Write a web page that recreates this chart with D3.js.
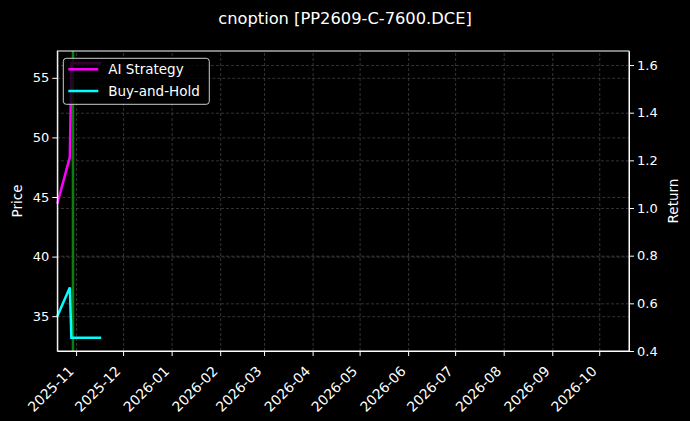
<!DOCTYPE html>
<html>
<head>
<meta charset="utf-8">
<script src="https://cdn.jsdelivr.net/npm/d3@7"></script>
<style>
  html, body { margin: 0; padding: 0; background: #000; }
  svg { display: block; font-family: "DejaVu Sans", sans-serif; }
  .axis text { fill: #fff; font-size: 13px; font-family: "DejaVu Sans", sans-serif; }
  .axis.x text { font-size: 13.8px; }
  .axis path, .axis line { stroke: #fff; }
  .grid line { stroke: #555; stroke-dasharray: 3,2; stroke-width: 0.6; }
  .grid path { display: none; }
</style>
</head>
<body>
<div id="container"></div>
<script>
// data
const dates = ["2025-10-20", "2025-10-28", "2025-10-29", "2025-11-17"]
const aiReturn = [1.018, 1.214, 1.608, 1.608]
const bhReturn = [0.546, 0.667, 0.456, 0.456]
const signalDates = ["2025-10-30"]
const xDomain = ["2025-10-20", "2026-10-20"]
const priceDomain = [32.08, 57.25]
const returnDomain = [0.40, 1.659]
const priceTicks = [35, 40, 45, 50, 55]
const returnTicks = [0.4, 0.6, 0.8, 1.0, 1.2, 1.4, 1.6]
const seriesNames = ["AI Strategy", "Buy-and-Hold"]
const seriesColors = ["#ff00ff", "#00ffff"]

const width = 690
const height = 421
const margin = {top: 51, right: 61, bottom: 70, left: 57.3}
const parse = d3.timeParse("%Y-%m-%d")

const svg = d3.select('#container')
  .append('svg')
  .attr('width', width)
  .attr('height', height)

svg.append('rect').attr('width', width).attr('height', height).attr('fill', '#000')

const scaleX = d3.scaleTime()
  .domain(xDomain.map(parse))
  .range([margin.left, width - margin.right])
const scaleY = d3.scaleLinear()
  .domain(priceDomain)
  .range([height - margin.bottom, margin.top])
const scaleR = d3.scaleLinear()
  .domain(returnDomain)
  .range([height - margin.bottom, margin.top])

const plotW = width - margin.left - margin.right
const plotH = height - margin.top - margin.bottom

// grids
svg.append('g').attr('class', 'grid')
  .attr('transform', `translate(0, ${height - margin.bottom})`)
  .call(d3.axisBottom(scaleX).ticks(d3.timeMonth.every(1)).tickSize(-plotH).tickFormat(''))
svg.append('g').attr('class', 'grid')
  .attr('transform', `translate(${margin.left}, 0)`)
  .call(d3.axisLeft(scaleY).tickValues(priceTicks).tickSize(-plotW).tickFormat(''))
svg.append('g').attr('class', 'grid')
  .attr('transform', `translate(${width - margin.right}, 0)`)
  .call(d3.axisRight(scaleR).tickValues(returnTicks).tickSize(-plotW).tickFormat(''))

// signal line on price axis
svg.selectAll('.signal')
  .data(signalDates)
  .enter()
  .append('line')
  .attr('class', 'signal')
  .attr('x1', d => scaleX(parse(d)))
  .attr('x2', d => scaleX(parse(d)))
  .attr('y1', scaleY(priceDomain[0]))
  .attr('y2', scaleY(priceDomain[1]))
  .attr('stroke', '#0b7f0b')
  .attr('stroke-width', 2.5)

// return lines
const line = d3.line()
  .x((d, i) => scaleX(parse(dates[i])))
  .y(d => scaleR(d))

;[aiReturn, bhReturn].forEach((vals, i) => {
  svg.append('path')
    .attr('d', line(vals))
    .attr('fill', 'none')
    .attr('stroke', seriesColors[i])
    .attr('stroke-width', 2.5)
})

// axes
const axisX = d3.axisBottom(scaleX)
  .ticks(d3.timeMonth.every(1))
  .tickFormat(d3.timeFormat('%Y-%m'))
  .tickSize(5)
  .tickSizeOuter(0)
svg.append('g').attr('class', 'axis x')
  .attr('transform', `translate(0, ${height - margin.bottom})`)
  .call(axisX)
  .selectAll('text')
  .attr('text-anchor', 'end')
  .attr('x', 0).attr('y', 0).attr('dy', 0)
  .attr('transform', 'translate(-2, 21) rotate(-45)')

svg.append('g').attr('class', 'axis')
  .attr('transform', `translate(${margin.left}, 0)`)
  .call(d3.axisLeft(scaleY).tickValues(priceTicks).tickSize(5).tickSizeOuter(0))

svg.append('g').attr('class', 'axis')
  .attr('transform', `translate(${width - margin.right}, 0)`)
  .call(d3.axisRight(scaleR).tickValues(returnTicks).tickFormat(d3.format('.1f')).tickSize(5).tickSizeOuter(0))

// frame
svg.append('rect')
  .attr('x', margin.left).attr('y', margin.top)
  .attr('width', plotW).attr('height', plotH)
  .attr('fill', 'none').attr('stroke', '#fff').attr('stroke-width', 1)

// labels
svg.append('text')
  .attr('x', 345).attr('y', 24)
  .attr('text-anchor', 'middle')
  .attr('fill', '#fff')
  .style('font-size', '16.3px')
  .text('cnoption [PP2609-C-7600.DCE]')

svg.append('text')
  .attr('transform', `translate(17, ${margin.top + plotH / 2}) rotate(-90)`)
  .attr('text-anchor', 'middle')
  .attr('dy', '0.35em')
  .attr('fill', '#fff')
  .style('font-size', '13.5px')
  .text('Price')

svg.append('text')
  .attr('transform', `translate(673, ${margin.top + plotH / 2}) rotate(-90)`)
  .attr('text-anchor', 'middle')
  .attr('dy', '0.35em')
  .attr('fill', '#fff')
  .style('font-size', '13.5px')
  .text('Return')

// legend
const legend = svg.append('g').attr('transform', 'translate(63.3, 58.3)')
legend.append('rect')
  .attr('width', 146).attr('height', 46)
  .attr('rx', 3)
  .attr('fill', '#000').attr('fill-opacity', 0.8)
  .attr('stroke', '#ccc').attr('stroke-width', 1)
seriesNames.forEach((name, i) => {
  const y = 11 + i * 21.7
  legend.append('line')
    .attr('x1', 5).attr('x2', 35)
    .attr('y1', y).attr('y2', y)
    .attr('stroke', seriesColors[i]).attr('stroke-width', 2.5)
  legend.append('text')
    .attr('x', 45).attr('y', y)
    .attr('dy', '0.35em')
    .attr('fill', '#fff')
    .style('font-size', '13.5px')
    .text(name)
})
</script>
</body>
</html>
